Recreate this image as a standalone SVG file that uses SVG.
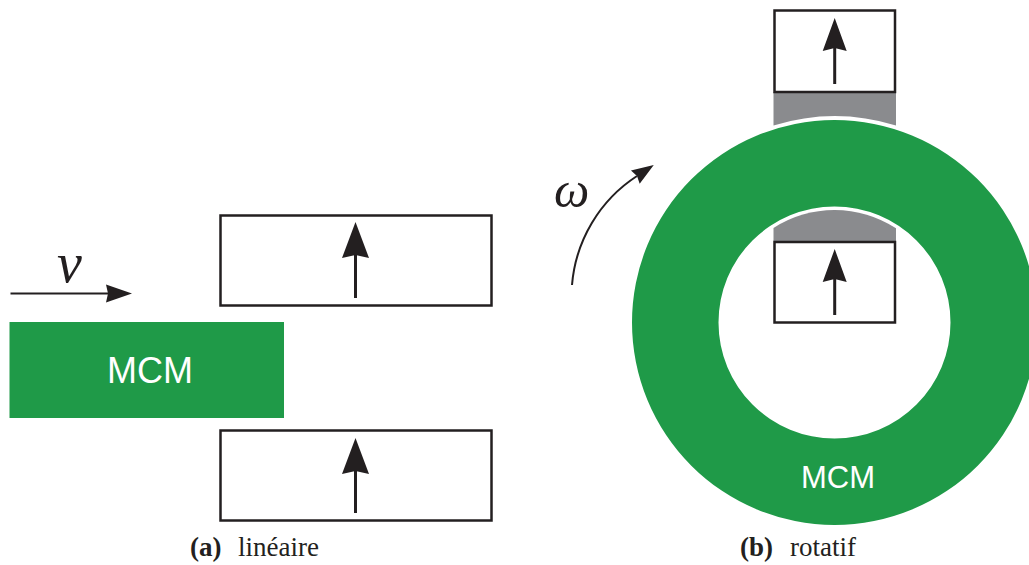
<svg xmlns="http://www.w3.org/2000/svg" width="1029" height="565" viewBox="0 0 1029 565">
<defs>
<style>
.box{fill:#fff;stroke:#231f20;stroke-width:2.5}
.shaft{stroke:#231f20;stroke-width:3;fill:none}
.thin{stroke:#231f20;stroke-width:2;fill:none}
.mcm{fill:#1f9a48}
.gray{fill:#8a8b8e}
.lbl{font-family:"Liberation Sans",Arial,sans-serif;fill:#fff;text-anchor:middle}
.cap{font-family:"Liberation Serif","Times New Roman",serif;font-size:27px;fill:#231f20}
.math{font-family:"Liberation Serif","Times New Roman",serif;font-style:italic;fill:#231f20}
</style>
<marker id="headL" markerUnits="userSpaceOnUse" markerWidth="40" markerHeight="30" refX="3" refY="13.5" orient="auto" overflow="visible">
<path d="M0,0 L36,13.5 L0,27 L3,13.5 Z" fill="#231f20"/>
</marker>
<marker id="headS" markerUnits="userSpaceOnUse" markerWidth="40" markerHeight="30" refX="3" refY="12" orient="auto" overflow="visible">
<path d="M0,0 L33,12 L0,24 L3,12 Z" fill="#231f20"/>
</marker>
<marker id="headT" markerUnits="userSpaceOnUse" markerWidth="30" markerHeight="20" refX="2" refY="9" orient="auto" overflow="visible">
<path d="M0,0 L26,9 L0,18 L2,9 Z" fill="#231f20"/>
</marker>
<marker id="headW" markerUnits="userSpaceOnUse" markerWidth="30" markerHeight="20" refX="2" refY="8" orient="auto" overflow="visible">
<path d="M0,0 L22,8 L0,16 L2,8 Z" fill="#231f20"/>
</marker>
</defs>
<rect width="1029" height="565" fill="#fff"/>

<!-- (a) linear -->
<g id="mcm-linear">
<rect class="mcm" x="9.5" y="322" width="274.5" height="96"/>
<text class="lbl" x="150" y="383" font-size="36">MCM</text>
</g>
<g id="box-top">
<rect class="box" x="220.5" y="215.5" width="271" height="90"/>
</g>
<g id="box-bottom">
<rect class="box" x="220.5" y="430.5" width="271" height="90"/>
</g>
<g id="label-v">
<text class="math" x="57" y="282" font-size="56">v</text>
</g>

<!-- (b) rotating -->
<g id="gap-top">
<path class="gray" d="M773.5,92 H896 V125.5 A206.5,206.5 0 0 0 773.5,125.5 Z"/>
</g>
<g id="mcm-rotor">
<path class="mcm" fill-rule="evenodd" d="M632,322.5 A202.5,202.5 0 1 0 1037,322.5 A202.5,202.5 0 1 0 632,322.5 Z M718.5,322.5 A116,116 0 1 0 950.5,322.5 A116,116 0 1 0 718.5,322.5 Z"/>
<text class="lbl" x="838" y="488" font-size="31">MCM</text>
</g>
<g id="gap-inner">
<path class="gray" d="M773.5,241 V228 A112.5,112.5 0 0 1 896,228.3 V241 Z"/>
</g>
<g id="box-outer">
<rect class="box" x="774.5" y="10.5" width="120.5" height="81.5"/>
</g>
<g id="box-inner">
<rect class="box" x="774.5" y="242" width="120.5" height="80.5"/>
</g>
<g id="label-omega">
<text class="math" x="554" y="207" font-size="50">ω</text>
</g>

<g id="connectors">
<line class="shaft" x1="355.5" y1="298" x2="355.5" y2="255" marker-end="url(#headL)"/>
<line class="shaft" x1="355.5" y1="513" x2="355.5" y2="471" marker-end="url(#headL)"/>
<line class="shaft" x1="834.7" y1="84" x2="834.7" y2="48" marker-end="url(#headS)"/>
<line class="shaft" x1="834.7" y1="315" x2="834.7" y2="279" marker-end="url(#headS)"/>
<line class="thin" x1="10.5" y1="293.5" x2="108" y2="293.5" marker-end="url(#headT)"/>
<path class="thin" d="M572,285 A144,144 0 0 1 637,176" marker-end="url(#headW)"/>
</g>

<g id="captions">
<text class="cap" y="556"><tspan x="190" font-weight="bold">(a)</tspan><tspan x="238">linéaire</tspan></text>
<text class="cap" y="556"><tspan x="740" font-weight="bold">(b)</tspan><tspan x="790">rotatif</tspan></text>
</g>
</svg>
